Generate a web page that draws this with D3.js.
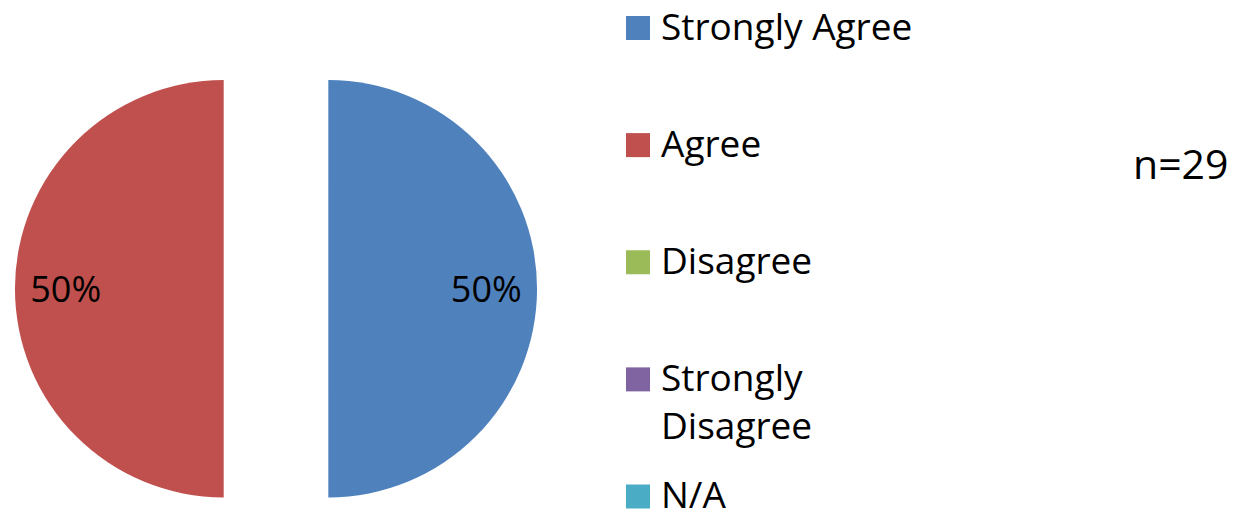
<!DOCTYPE html>
<html>
<head>
<meta charset="utf-8">
<script src="https://cdn.jsdelivr.net/npm/d3@7"></script>
<style>
  html, body { margin: 0; padding: 0; background: #fff; }
  svg text { font-family: "Open Sans", "Liberation Sans", sans-serif; fill: #000; }
</style>
</head>
<body>
<svg id="chart" width="1239" height="519"></svg>
<script>
// ---- data ----
const categories = ["Strongly Agree", "Agree", "Disagree", "Strongly Disagree", "N/A"];
const values = [50, 50, 0, 0, 0];
const colors = ["#4F81BD", "#C0504D", "#9BBB59", "#8064A2", "#4BACC6"];
const legendLines = [["Strongly Agree"], ["Agree"], ["Disagree"], ["Strongly", "Disagree"], ["N/A"]];
const noteText = "n=29";

// ---- layout ----
const svg = d3.select("#chart");
const cx = 276, cy = 288.75, R = 208.75, explode = 52.3, labelR = 158;

const pie = d3.pie().sort(null).value(d => d)(values);
const arc = d3.arc().innerRadius(0).outerRadius(R);
const labelArc = d3.arc().innerRadius(labelR).outerRadius(labelR);
const total = d3.sum(values);
const fmt = d3.format(".0%");

const g = svg.append("g").attr("transform", `translate(${cx},${cy})`);
const slices = g.selectAll("g.slice")
  .data(pie.filter(d => d.value > 0))
  .join("g")
  .attr("class", "slice")
  .attr("transform", d => {
    const a = (d.startAngle + d.endAngle) / 2;
    return `translate(${Math.sin(a) * explode},${-Math.cos(a) * explode})`;
  });

slices.append("path")
  .attr("d", arc)
  .attr("fill", d => colors[d.index]);

slices.append("text")
  .attr("transform", d => `translate(${labelArc.centroid(d)})`)
  .attr("text-anchor", "middle")
  .attr("dy", "0.36em")
  .style("font-size", "36px")
  .text(d => fmt(d.value / total));

// ---- legend ----
const legendY = d3.scalePoint().domain(categories).range([28, 496.5]);
const leg = svg.append("g").selectAll("g")
  .data(categories)
  .join("g")
  .attr("transform", d => `translate(626,${legendY(d)})`);

leg.append("rect")
  .attr("x", 0).attr("y", -12).attr("width", 24).attr("height", 24)
  .attr("fill", (d, i) => colors[i]);

leg.append("text")
  .attr("x", 35)
  .attr("y", 11.5)
  .style("font-size", "37px")
  .selectAll("tspan")
  .data((d, i) => legendLines[i])
  .join("tspan")
  .attr("x", 35)
  .attr("dy", (d, j) => j === 0 ? 0 : 48.5)
  .text(d => d);

svg.append("text")
  .attr("x", 1133)
  .attr("y", 179)
  .style("font-size", "41px")
  .text(noteText);
</script>
</body>
</html>
